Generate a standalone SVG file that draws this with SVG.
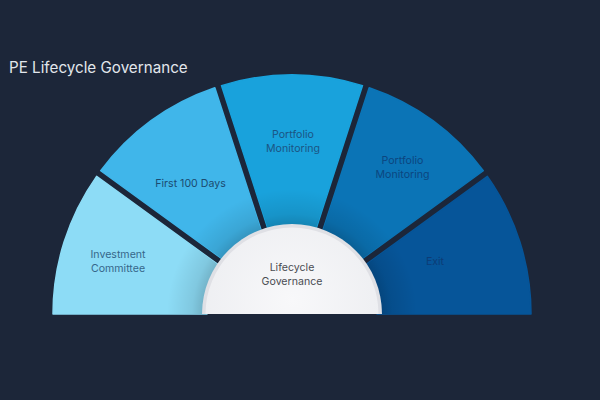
<svg xmlns="http://www.w3.org/2000/svg" width="600" height="400" viewBox="0 0 600 400">
  <defs>
    <style>
      .lbl { font-family: Inter, "Noto Sans", "Liberation Sans", sans-serif; font-size: 10.6px; text-anchor: middle; }
      .title { font-family: Inter, "Noto Sans", "Liberation Sans", sans-serif; font-size: 15.2px; fill: #e2e6ec; }
    </style>
    <radialGradient id="ring" cx="292" cy="314" r="125" gradientUnits="userSpaceOnUse">
      <stop offset="0.70" stop-color="#000" stop-opacity="0.2"/>
      <stop offset="0.80" stop-color="#000" stop-opacity="0.09"/>
      <stop offset="1" stop-color="#000" stop-opacity="0"/>
    </radialGradient>
    <radialGradient id="disc" cx="292" cy="300" r="90" gradientUnits="userSpaceOnUse">
      <stop offset="0" stop-color="#f8f8fa"/>
      <stop offset="1" stop-color="#eeeff2"/>
    </radialGradient>
    <clipPath id="segs">
      <path d="M531,314 A239,239 0 0 0 487.38,176.35 L362.76,266.91 A85,85 0 0 1 377,314 Z"/>
      <path d="M483.30,170.74 A239,239 0 0 0 369.18,87.81 L321.57,234.31 A85,85 0 0 1 358.64,261.24 Z"/>
      <path d="M362.52,85.64 A239,239 0 0 0 221.48,85.64 L269.08,232.15 A85,85 0 0 1 314.92,232.15 Z"/>
      <path d="M214.82,87.81 A239,239 0 0 0 100.70,170.74 L225.36,261.24 A85,85 0 0 1 262.43,234.31 Z"/>
      <path d="M96.62,176.35 A239,239 0 0 0 53,314 L207,314 A85,85 0 0 1 221.24,266.91 Z"/>
    </clipPath>
  </defs>
  <rect width="600" height="400" fill="#1c2639"/>
  <text class="title" x="9" y="72.5">PE Lifecycle Governance</text>

  <g id="node-investment-committee">
    <path d="M96.62,176.35 A239,239 0 0 0 53,314 L207,314 A85,85 0 0 1 221.24,266.91 Z" fill="#8ddcf6" stroke="#8ddcf6" stroke-width="1.5" stroke-linejoin="round"/>
    <text class="lbl" x="118" y="258" fill="#36678a">Investment</text>
    <text class="lbl" x="118" y="272" fill="#36678a">Committee</text>
  </g>
  <g id="node-first-100-days">
    <path d="M214.82,87.81 A239,239 0 0 0 100.70,170.74 L225.36,261.24 A85,85 0 0 1 262.43,234.31 Z" fill="#40b6ea" stroke="#40b6ea" stroke-width="1.5" stroke-linejoin="round"/>
    <text class="lbl" x="190.5" y="186.5" fill="#1b4b70">First 100 Days</text>
  </g>
  <g id="node-portfolio-monitoring-1">
    <path d="M362.52,85.64 A239,239 0 0 0 221.48,85.64 L269.08,232.15 A85,85 0 0 1 314.92,232.15 Z" fill="#19a2dc" stroke="#19a2dc" stroke-width="1.5" stroke-linejoin="round"/>
    <text class="lbl" x="293" y="138" fill="#1b5584">Portfolio</text>
    <text class="lbl" x="293" y="151.5" fill="#1b5584">Monitoring</text>
  </g>
  <g id="node-portfolio-monitoring-2">
    <path d="M483.30,170.74 A239,239 0 0 0 369.18,87.81 L321.57,234.31 A85,85 0 0 1 358.64,261.24 Z" fill="#0b74b6" stroke="#0b74b6" stroke-width="1.5" stroke-linejoin="round"/>
    <text class="lbl" x="402.5" y="164" fill="#0c4680">Portfolio</text>
    <text class="lbl" x="402.5" y="177.5" fill="#0c4680">Monitoring</text>
  </g>
  <g id="node-exit">
    <path d="M531,314 A239,239 0 0 0 487.38,176.35 L362.76,266.91 A85,85 0 0 1 377,314 Z" fill="#065599" stroke="#065599" stroke-width="1.5" stroke-linejoin="round"/>
    <text class="lbl" x="435" y="265" fill="#0c3c76">Exit</text>
  </g>

  <rect x="160" y="180" width="264" height="134" fill="url(#ring)" clip-path="url(#segs)"/>

  <g id="connectors"></g>

  <g id="node-lifecycle-governance">
    <path d="M202,314 A90,90 0 0 1 382,314 Z" fill="#dfe0e5"/>
    <path d="M205.5,314 A86.5,86.5 0 0 1 378.5,314 Z" fill="url(#disc)"/>
    <text class="lbl" x="292" y="271" fill="#4a4c52">Lifecycle</text>
    <text class="lbl" x="292" y="285" fill="#4a4c52">Governance</text>
  </g>
</svg>
